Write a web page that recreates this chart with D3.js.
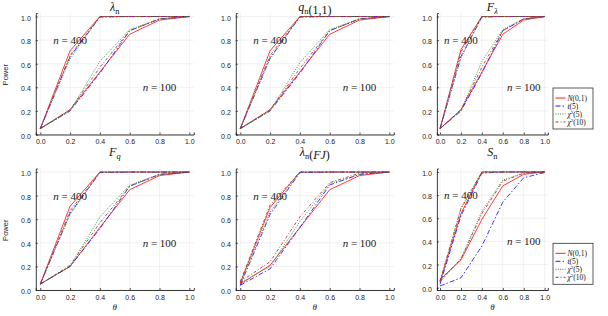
<!DOCTYPE html>
<html><head><meta charset="utf-8">
<script src="https://cdn.jsdelivr.net/npm/d3@7"></script>
<style>body{margin:0;background:#fff}</style>
</head><body><svg id="c" width="608" height="316"></svg>
<script>
// ---------------- data ----------------
const theta = [0, 0.2, 0.4, 0.6, 0.8, 1.0];
const xTicks = [0, 0.2, 0.4, 0.6, 0.8, 1.0];
const yTicks = [0, 0.2, 0.4, 0.6, 0.8, 1.0];
const distNames = ["N(0,1)", "t(5)", "χ2(5)", "χ2(10)"];
const titles = ["λ_n", "q_n(1,1)", "F_λ", "F_q", "λ_n(FJ)", "S_n"];
const annot400 = "n = 400";
const annot100 = "n = 100";
// rows of each array: N(0,1), t(5), chi2(5), chi2(10)
const lam_n400 = [[0.05,0.71,1,1,1,1],[0.05,0.66,0.995,1,1,1],[0.05,0.64,1,1,1,1],[0.05,0.67,1,1,1,1]];
const lam_n100 = [[0.05,0.21,0.53,0.85,0.97,1],[0.05,0.20,0.52,0.88,0.98,1],[0.05,0.20,0.62,0.89,0.98,1],[0.05,0.21,0.57,0.88,0.98,1]];
const q11_n400 = [[0.05,0.71,1,1,1,1],[0.05,0.65,0.995,1,1,1],[0.05,0.64,1,1,1,1],[0.05,0.67,1,1,1,1]];
const q11_n100 = [[0.05,0.21,0.53,0.85,0.97,1],[0.05,0.20,0.52,0.88,0.98,1],[0.05,0.20,0.61,0.89,0.98,1],[0.05,0.21,0.56,0.88,0.98,1]];
const Flam_n400 = [[0.05,0.72,1,1,1,1],[0.05,0.66,0.995,1,1,1],[0.05,0.65,1,1,1,1],[0.05,0.70,1,1,1,1]];
const Flam_n100 = [[0.05,0.21,0.53,0.85,0.97,1],[0.05,0.20,0.52,0.88,0.98,1],[0.05,0.20,0.62,0.89,0.98,1],[0.05,0.21,0.57,0.88,0.98,1]];
const Fq_n400 = [[0.05,0.71,1,1,1,1],[0.05,0.65,0.995,1,1,1],[0.05,0.64,1,1,1,1],[0.05,0.67,1,1,1,1]];
const Fq_n100 = [[0.05,0.20,0.53,0.85,0.97,1],[0.05,0.20,0.52,0.88,0.98,1],[0.05,0.20,0.62,0.89,0.98,1],[0.05,0.21,0.57,0.88,0.98,1]];
const FJ_n400 = [[0.06,0.70,1,1,1,1],[0.04,0.64,0.995,1,1,1],[0.05,0.66,1,1,1,1],[0.07,0.72,1,1,1,1]];
const FJ_n100 = [[0.05,0.21,0.53,0.85,0.97,1],[0.04,0.18,0.53,0.89,0.98,1],[0.06,0.20,0.58,0.90,0.98,1],[0.07,0.24,0.62,0.91,0.99,1]];
const Sn_n400 = [[0.05,0.64,1,1,1,1],[0.03,0.62,0.99,1,1,1],[0.05,0.69,1,1,1,1],[0.06,0.68,1,1,1,1]];
const Sn_n100 = [[0.07,0.24,0.59,0.88,0.98,1],[0.015,0.085,0.36,0.74,0.95,0.995],[0.05,0.25,0.66,0.93,0.99,1],[0.06,0.25,0.64,0.92,0.99,1]];

// ---------------- style / layout ----------------
const colors = ["#ff1a1a", "#1a1aff", "#2e8b2e", "#a83232"];
const dashes = [null, "5,2,1.5,2", "1,1.3", "3,2,1,2"];
const panelData = [[lam_n400, lam_n100],[q11_n400, q11_n100],[Flam_n400, Flam_n100],[Fq_n400, Fq_n100],[FJ_n400, FJ_n100],[Sn_n400, Sn_n100]];
const colL = [35.8, 235.8, 436.9], colR = [193.8, 393.8, 547.8];
const rowB = [134.5, 290], rowT = [13, 168.5];
const yDomains = [[0,1.03],[0,1.03],[0,1.03],[0,1.03],[0,1.03],[-0.02,1.03]];

const svg = d3.select("#c");
svg.append("rect").attr("width",608).attr("height",316).attr("fill","#fff");
const SANS = "'Liberation Sans', Arial, sans-serif";
const SERIF = "'Liberation Serif', 'Times New Roman', serif";

function mathText(sel, str, size) {
  const parts = str.split("_");
  const head = parts[0];
  const rest = parts.length > 1 ? parts[1] : "";
  const writeRun = (s) => {
    for (const ch of s) {
      const isLetter = /[A-Za-zλχ]/.test(ch);
      sel.append("tspan").text(ch).attr("font-style", isLetter ? "italic" : "normal");
    }
  };
  writeRun(head);
  if (rest) {
    const subCh = rest[0];
    sel.append("tspan").attr("dy", size*0.25).attr("font-size", size*0.7)
      .attr("font-style", subCh === "n" ? "normal" : "italic").text(subCh);
    const after = rest.slice(1);
    if (after) {
      sel.append("tspan").attr("dy", -size*0.25).text("");
      writeRun(after);
    }
  }
}

panelData.forEach((pd, i) => {
  const r = Math.floor(i/3), c = i % 3;
  const x = d3.scaleLinear().domain([-0.03, 1.03]).range([colL[c], colR[c]]);
  const y = d3.scaleLinear().domain(yDomains[i]).range([rowB[r], rowT[r]]);
  const g = svg.append("g");
  // grid
  g.selectAll(".gx").data(xTicks).enter().append("line")
    .attr("x1", d=>x(d)).attr("x2", d=>x(d)).attr("y1", rowB[r]).attr("y2", rowT[r])
    .attr("stroke", "#000").attr("stroke-opacity", 0.1).attr("stroke-width", 0.6);
  g.selectAll(".gy").data(yTicks).enter().append("line")
    .attr("x1", colL[c]).attr("x2", colR[c]).attr("y1", d=>y(d)).attr("y2", d=>y(d))
    .attr("stroke", "#000").attr("stroke-opacity", 0.1).attr("stroke-width", 0.6);
  // axes via d3
  const xa = d3.axisBottom(x).tickValues(xTicks).tickFormat(d3.format(".1f")).tickSize(-2).tickPadding(5);
  const ya = d3.axisLeft(y).tickValues(yTicks).tickFormat(d3.format(".1f")).tickSize(-2).tickPadding(5);
  const gx = g.append("g").attr("transform", `translate(0,${rowB[r]})`).call(xa);
  const gy = g.append("g").attr("transform", `translate(${colL[c]},0)`).call(ya);
  [gx, gy].forEach(a => {
    a.select(".domain").attr("stroke", "#222").attr("stroke-width", 0.9);
    a.selectAll(".tick line").attr("stroke", "#222").attr("stroke-width", 0.8);
    a.selectAll("text").attr("font-family", SANS).attr("font-size", 7).attr("fill", "#222");
  });
  gx.selectAll("text").attr("dy", "0.71em");
  gy.selectAll("text").attr("dy", "0.5em");
  // lines
  const line = d3.line().x((d,k)=>x(theta[k])).y(d=>y(d));
  [1, 0].forEach(nIdx => {
    pd[nIdx].forEach((vals, s) => {
      g.append("path").attr("d", line(vals)).attr("fill", "none")
        .attr("stroke", colors[s]).attr("stroke-width", 1)
        .attr("stroke-opacity", 0.85)
        .attr("stroke-dasharray", dashes[s]);
    });
  });
  // annotations
  [[annot400, 0.2, 0.8], [annot100, 0.8, 0.4]].forEach(([txt, ax, ay]) => {
    const t = g.append("text").attr("x", x(ax)).attr("y", y(ay) + 4)
      .attr("text-anchor", "middle").attr("font-family", SERIF).attr("font-size", 11).attr("fill", "#222");
    t.append("tspan").attr("font-style", "italic").text(txt.split(" ")[0]);
    t.append("tspan").text(" " + txt.split(" ").slice(1).join(" "));
  });
  // title
  const tt = g.append("text").attr("x", (colL[c]+colR[c])/2).attr("y", r === 0 ? 10.5 : 156)
    .attr("text-anchor", "middle").attr("font-family", SERIF).attr("font-size", 12).attr("fill", "#111");
  mathText(tt, titles[i], 12);
  // y label
  if (c === 0) {
    const cy = (rowB[r] + rowT[r]) / 2 + 1;
    g.append("text").attr("transform", `translate(8,${cy}) rotate(-90)`)
      .attr("text-anchor", "middle").attr("font-family", SANS).attr("font-size", 7.5).attr("fill", "#222").text("Power");
  }
  // x label
  if (r === 1) {
    g.append("text").attr("x", (colL[c]+colR[c])/2).attr("y", 310)
      .attr("text-anchor", "middle").attr("font-family", SERIF).attr("font-style", "italic")
      .attr("font-size", 9).attr("fill", "#222").text("θ");
  }
  // legend
  if (c === 2) {
    const top = r === 0 ? 88 : 243.3;
    const lg = svg.append("g");
    lg.append("rect").attr("x", 553).attr("y", top).attr("width", 40).attr("height", 41)
      .attr("fill", "#fff").attr("stroke", "#333").attr("stroke-width", 0.8);
    distNames.forEach((nm, s) => {
      const ly = top + 10 + s * 8;
      lg.append("line").attr("x1", 555.5).attr("x2", 565.5).attr("y1", ly).attr("y2", ly)
        .attr("stroke", colors[s]).attr("stroke-width", 1).attr("stroke-dasharray", dashes[s]);
      const t = lg.append("text").attr("x", 567.5).attr("y", ly + 2.6)
        .attr("font-family", SERIF).attr("font-size", 7.5).attr("fill", "#111");
      const m = nm.match(/^([A-Za-zχ])(2?)(.*)$/);
      t.append("tspan").attr("font-style", "italic").text(m[1]);
      if (m[2]) {
        t.append("tspan").attr("dy", -2.5).attr("font-size", 5).text(m[2]);
        t.append("tspan").attr("dy", 2.5).text(m[3]);
      } else {
        t.append("tspan").text(m[3]);
      }
    });
  }
});
</script></body></html>
